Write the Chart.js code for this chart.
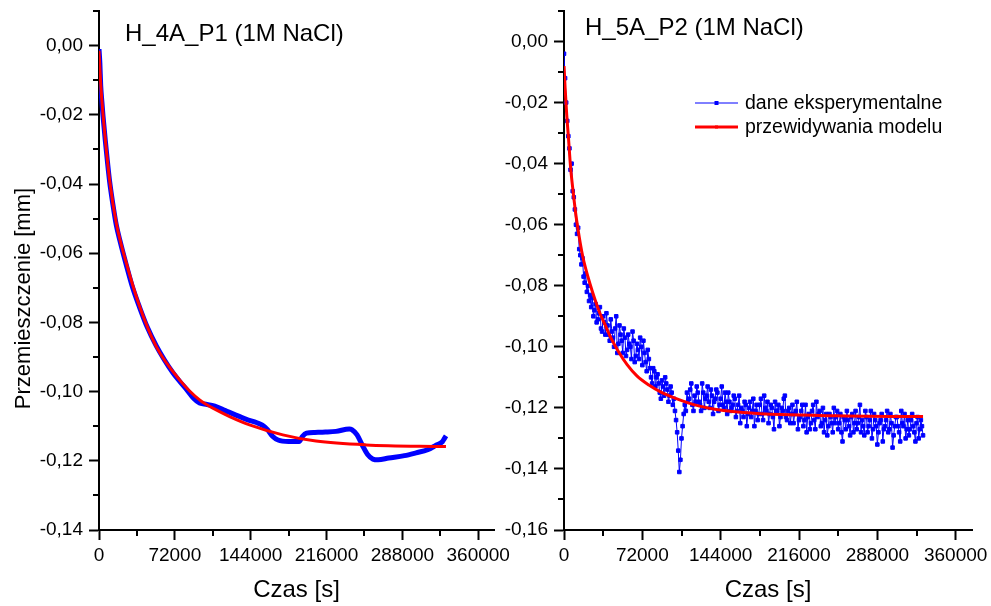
<!DOCTYPE html>
<html>
<head>
<meta charset="utf-8">
<script src="https://cdn.jsdelivr.net/npm/chart.js@4.4.1/dist/chart.umd.min.js"></script>
<style>
  html, body { margin: 0; padding: 0; background: #fff; overflow: hidden; }
  #wrap { position: relative; width: 991px; height: 606px; overflow: hidden; }
  canvas { position: absolute; top: 0; }
  #left { left: 0; }
  #right { left: 480px; }
</style>
</head>
<body>
<div id="wrap">
  <canvas id="left" width="530" height="606"></canvas>
  <canvas id="right" width="530" height="606"></canvas>
</div>
<script>
// tick values
const xTicks = [0, 72000, 144000, 216000, 288000, 360000];
const xMinor = [36000, 108000, 180000, 252000, 324000];
const leftYTicks = [0, -0.02, -0.04, -0.06, -0.08, -0.10, -0.12, -0.14];
const leftYMinor = [0.01, -0.01, -0.03, -0.05, -0.07, -0.09, -0.11, -0.13];
const rightYTicks = [0, -0.02, -0.04, -0.06, -0.08, -0.10, -0.12, -0.14, -0.16];
const rightYMinor = [0.01, -0.01, -0.03, -0.05, -0.07, -0.09, -0.11, -0.13, -0.15];

const seriesNames = ['dane eksperymentalne', 'przewidywania modelu'];

const leftExpTime = [0, 800, 1600, 2800, 3800, 6000, 8000, 10100, 13000, 16500, 20000, 26000, 32000, 38600,
  46000, 54400, 62000, 70000, 76500, 84000, 90000, 95500, 100000, 110000, 120000, 130000, 140000, 150000,
  155000, 160000, 165000, 170000, 180000, 190000, 193000, 197000, 205000, 215000, 225000, 237700, 240000,
  245000, 250000, 255000, 260000, 265000, 275000, 290000, 301000, 312000, 320000, 326000, 328000, 329500];
const leftExpDisp = [-0.0010, -0.0050, -0.0115, -0.0165, -0.0203, -0.0275, -0.0335, -0.0393, -0.0455, -0.0520,
  -0.0565, -0.0635, -0.0700, -0.0757, -0.0815, -0.0868, -0.0908, -0.0945, -0.0970, -0.0997, -0.1020, -0.1033,
  -0.1036, -0.1042, -0.1055, -0.1068, -0.1080, -0.1090, -0.1097, -0.1110, -0.1130, -0.1140, -0.1144, -0.1144,
  -0.1130, -0.1120, -0.1118, -0.1117, -0.1115, -0.1108, -0.1110, -0.1125, -0.1155, -0.1182, -0.1195, -0.1197,
  -0.1192, -0.1185, -0.1177, -0.1168, -0.1155, -0.1145, -0.1135, -0.1128];

// H_4A_P1 - model
const leftModelTime = [0, 1600, 3800, 10100, 16500, 26000, 38600, 54400, 76500, 95500, 111300, 124000,
  142900, 174500, 206000, 253500, 329400];
const leftModelDisp = [-0.0015, -0.0110, -0.0197, -0.0389, -0.0514, -0.0629, -0.0754, -0.0870, -0.0966,
  -0.1024, -0.1053, -0.1072, -0.1096, -0.1125, -0.1143, -0.1154, -0.1159];

// H_5A_P2 - experiment, one reading every 1000 s
const rightExpTime = [
  0, 1000, 2000, 3000, 4000, 5000, 6000, 7000, 8000, 9000,
  10000, 11000, 12000, 13000, 14000, 15000, 16000, 17000, 18000, 19000,
  20000, 21000, 22000, 23000, 24000, 25000, 26000, 27000, 28000, 29000,
  30000, 31000, 32000, 33000, 34000, 35000, 36000, 37000, 38000, 39000,
  40000, 41000, 42000, 43000, 44000, 45000, 46000, 47000, 48000, 49000,
  50000, 51000, 52000, 53000, 54000, 55000, 56000, 57000, 58000, 59000,
  60000, 61000, 62000, 63000, 64000, 65000, 66000, 67000, 68000, 69000,
  70000, 71000, 72000, 73000, 74000, 75000, 76000, 77000, 78000, 79000,
  80000, 81000, 82000, 83000, 84000, 85000, 86000, 87000, 88000, 89000,
  90000, 91000, 92000, 93000, 94000, 95000, 96000, 97000, 98000, 99000,
  100000, 101000, 102000, 103000, 104000, 105000, 106000, 107000, 108000, 109000,
  110000, 111000, 112000, 113000, 114000, 115000, 116000, 117000, 118000, 119000,
  120000, 121000, 122000, 123000, 124000, 125000, 126000, 127000, 128000, 129000,
  130000, 131000, 132000, 133000, 134000, 135000, 136000, 137000, 138000, 139000,
  140000, 141000, 142000, 143000, 144000, 145000, 146000, 147000, 148000, 149000,
  150000, 151000, 152000, 153000, 154000, 155000, 156000, 157000, 158000, 159000,
  160000, 161000, 162000, 163000, 164000, 165000, 166000, 167000, 168000, 169000,
  170000, 171000, 172000, 173000, 174000, 175000, 176000, 177000, 178000, 179000,
  180000, 181000, 182000, 183000, 184000, 185000, 186000, 187000, 188000, 189000,
  190000, 191000, 192000, 193000, 194000, 195000, 196000, 197000, 198000, 199000,
  200000, 201000, 202000, 203000, 204000, 205000, 206000, 207000, 208000, 209000,
  210000, 211000, 212000, 213000, 214000, 215000, 216000, 217000, 218000, 219000,
  220000, 221000, 222000, 223000, 224000, 225000, 226000, 227000, 228000, 229000,
  230000, 231000, 232000, 233000, 234000, 235000, 236000, 237000, 238000, 239000,
  240000, 241000, 242000, 243000, 244000, 245000, 246000, 247000, 248000, 249000,
  250000, 251000, 252000, 253000, 254000, 255000, 256000, 257000, 258000, 259000,
  260000, 261000, 262000, 263000, 264000, 265000, 266000, 267000, 268000, 269000,
  270000, 271000, 272000, 273000, 274000, 275000, 276000, 277000, 278000, 279000,
  280000, 281000, 282000, 283000, 284000, 285000, 286000, 287000, 288000, 289000,
  290000, 291000, 292000, 293000, 294000, 295000, 296000, 297000, 298000, 299000,
  300000, 301000, 302000, 303000, 304000, 305000, 306000, 307000, 308000, 309000,
  310000, 311000, 312000, 313000, 314000, 315000, 316000, 317000, 318000, 319000,
  320000, 321000, 322000, 323000, 324000, 325000, 326000, 327000, 328000, 329000,
  330000];
const rightExpDisp = [
  -0.004, -0.012, -0.020, -0.026, -0.031, -0.035, -0.042, -0.040, -0.049, -0.051,
  -0.055, -0.060, -0.063, -0.061, -0.068, -0.070, -0.073, -0.071, -0.077, -0.079,
  -0.076, -0.082, -0.080, -0.085, -0.083, -0.087, -0.084, -0.090, -0.088, -0.086,
  -0.092, -0.091, -0.089, -0.087, -0.094, -0.095, -0.090, -0.092, -0.096, -0.089,
  -0.093, -0.096, -0.098, -0.091, -0.095, -0.097, -0.100, -0.094, -0.090, -0.102,
  -0.099, -0.093, -0.096, -0.098, -0.102, -0.094, -0.097, -0.103, -0.101, -0.096,
  -0.099, -0.100, -0.104, -0.095, -0.098, -0.105, -0.103, -0.099, -0.101, -0.104,
  -0.097, -0.100, -0.106, -0.098, -0.102, -0.105, -0.108, -0.101, -0.104, -0.107,
  -0.110, -0.112, -0.107, -0.108, -0.113, -0.110, -0.109, -0.112, -0.115, -0.117,
  -0.111, -0.113, -0.116, -0.110, -0.112, -0.114, -0.118, -0.116, -0.113, -0.115,
  -0.119, -0.117, -0.121, -0.124, -0.128, -0.134, -0.141, -0.137, -0.130, -0.126,
  -0.122, -0.119, -0.121, -0.115, -0.118, -0.117, -0.114, -0.112, -0.119, -0.121,
  -0.116, -0.118, -0.113, -0.115, -0.118, -0.119, -0.121, -0.112, -0.115, -0.120,
  -0.117, -0.116, -0.113, -0.118, -0.120, -0.114, -0.116, -0.122, -0.118, -0.117,
  -0.114, -0.115, -0.121, -0.119, -0.117, -0.113, -0.119, -0.120, -0.115, -0.118,
  -0.122, -0.115, -0.118, -0.121, -0.120, -0.119, -0.116, -0.117, -0.123, -0.121,
  -0.119, -0.116, -0.125, -0.120, -0.121, -0.123, -0.118, -0.119, -0.126, -0.122,
  -0.120, -0.118, -0.123, -0.121, -0.117, -0.126, -0.121, -0.119, -0.124, -0.122,
  -0.119, -0.117, -0.122, -0.124, -0.116, -0.120, -0.121, -0.118, -0.125, -0.122,
  -0.119, -0.120, -0.123, -0.127, -0.118, -0.121, -0.121, -0.119, -0.126, -0.123,
  -0.120, -0.121, -0.117, -0.116, -0.123, -0.124, -0.121, -0.120, -0.125, -0.122,
  -0.119, -0.125, -0.122, -0.121, -0.118, -0.127, -0.124, -0.123, -0.121, -0.119,
  -0.126, -0.124, -0.119, -0.128, -0.123, -0.122, -0.127, -0.125, -0.121, -0.119,
  -0.124, -0.127, -0.118, -0.123, -0.122, -0.121, -0.126, -0.125, -0.120, -0.128,
  -0.124, -0.122, -0.129, -0.126, -0.122, -0.123, -0.125, -0.128, -0.120, -0.125,
  -0.123, -0.121, -0.127, -0.125, -0.122, -0.128, -0.131, -0.123, -0.124, -0.127,
  -0.121, -0.124, -0.126, -0.129, -0.123, -0.122, -0.128, -0.125, -0.121, -0.127,
  -0.125, -0.123, -0.119, -0.128, -0.124, -0.126, -0.129, -0.121, -0.123, -0.128,
  -0.126, -0.124, -0.121, -0.130, -0.127, -0.122, -0.124, -0.126, -0.132, -0.128,
  -0.125, -0.124, -0.122, -0.131, -0.127, -0.126, -0.124, -0.121, -0.128, -0.127,
  -0.122, -0.125, -0.133, -0.129, -0.126, -0.123, -0.123, -0.126, -0.128, -0.131,
  -0.121, -0.125, -0.126, -0.122, -0.130, -0.127, -0.124, -0.129, -0.127, -0.124,
  -0.122, -0.126, -0.128, -0.131, -0.125, -0.123, -0.130, -0.127, -0.124, -0.126,
  -0.129];

// H_5A_P2 - model
const rightModelTime = [0, 1000, 2500, 4000, 6000, 8500, 11000, 14000, 17000, 20000, 24000, 28000, 33000,
  38000, 43000, 50000, 58000, 67000, 78000, 90000, 105000, 120000, 140000, 165000, 200000, 250000, 300000, 330000];
const rightModelDisp = [-0.008, -0.015, -0.024, -0.031, -0.041, -0.0495, -0.057, -0.064, -0.070, -0.0745,
  -0.0795, -0.084, -0.089, -0.093, -0.097, -0.1015, -0.1058, -0.1095, -0.1125, -0.115, -0.1172, -0.119,
  -0.1205, -0.1215, -0.1222, -0.1226, -0.1228, -0.1228];

const FONT = '"Liberation Sans", Arial, sans-serif';
Chart.defaults.font.family = FONT;
Chart.defaults.color = '#000';

const pts = (xs, ys) => xs.map((x, i) => ({ x: x, y: ys[i] }));
const fmtY = v => v.toFixed(2).replace('.', ',');

// minor ticks, panel title, y title and legend
const decor = {
  id: 'decor',
  afterDraw(chart, args, o) {
    const { ctx, chartArea: a, scales: { x, y } } = chart;
    ctx.save();
    ctx.strokeStyle = '#000';
    ctx.lineWidth = 2;
    ctx.beginPath();
    o.minorX.forEach(v => {
      const px = Math.round(x.getPixelForValue(v));
      ctx.moveTo(px, a.bottom);
      ctx.lineTo(px, a.bottom + 6);
    });
    o.minorY.forEach(v => {
      const py = Math.round(y.getPixelForValue(v));
      ctx.moveTo(a.left, py);
      ctx.lineTo(a.left - 6, py);
    });
    ctx.stroke();

    ctx.fillStyle = '#000';
    ctx.textBaseline = 'alphabetic';
    ctx.font = '24px ' + FONT;
    ctx.fillText(o.title, a.left + o.titleDx, a.top + o.titleDy);

    if (o.yTitle) {
      ctx.save();
      ctx.font = '22px ' + FONT;
      ctx.translate(o.yTitleX, o.yTitleY);
      ctx.rotate(-Math.PI / 2);
      ctx.textAlign = 'center';
      ctx.fillText(o.yTitle, 0, 0);
      ctx.restore();
    }

    if (o.legend) {
      ctx.font = '19.5px ' + FONT;
      chart.data.datasets.forEach((d, i) => {
        const ly = a.top + 92 + i * 24;
        const x0 = a.left + 131, x1 = a.left + 174;
        ctx.strokeStyle = d.borderColor;
        ctx.lineWidth = d.borderWidth;
        ctx.beginPath();
        ctx.moveTo(x0, ly);
        ctx.lineTo(x1, ly);
        ctx.stroke();
        ctx.fillStyle = d.borderColor;
        const s = i === 0 ? 4 : 3;
        ctx.fillRect((x0 + x1) / 2 - s / 2, ly - s / 2, s, s);
        ctx.fillStyle = '#000';
        ctx.fillText(d.label, a.left + 181, ly + 6);
      });
    }
    ctx.restore();
  }
};

function scales(yTicks, yMin, yWidth) {
  const grid = { display: true, drawOnChartArea: false, drawTicks: true, tickLength: 10, tickWidth: 2, tickColor: '#000' };
  const border = { display: true, color: '#000', width: 2 };
  return {
    x: {
      type: 'linear', min: 0, max: 375000,
      afterBuildTicks: s => { s.ticks = xTicks.map(v => ({ value: v })); },
      afterFit: s => { s.height = 76; s.paddingLeft = 0; s.paddingRight = 0; },
      grid: grid, border: border,
      ticks: { color: '#000', font: { size: 19 }, padding: 4, maxRotation: 0, autoSkip: false, callback: v => String(v) },
      title: { display: true, text: 'Czas [s]', color: '#000', font: { size: 24 }, padding: { top: 0, bottom: 1 } }
    },
    y: {
      type: 'linear', min: yMin, max: 0.01,
      afterBuildTicks: s => { s.ticks = yTicks.map(v => ({ value: v })); },
      afterFit: s => { s.width = yWidth; s.paddingTop = 0; s.paddingBottom = 0; },
      grid: grid, border: border,
      ticks: { color: '#000', font: { size: 19 }, padding: 6, autoSkip: false, callback: v => fmtY(v) }
    }
  };
}

new Chart(document.getElementById('left'), {
  type: 'line',
  data: {
    datasets: [
      { label: seriesNames[0], data: pts(leftExpTime, leftExpDisp), borderColor: '#0000ff', borderWidth: 5,
        pointRadius: 0, cubicInterpolationMode: 'monotone', order: 1 },
      { label: seriesNames[1], data: pts(leftModelTime, leftModelDisp), borderColor: '#ff0000', borderWidth: 3,
        pointRadius: 0, cubicInterpolationMode: 'monotone', order: 0 }
    ]
  },
  options: {
    responsive: false, animation: false, devicePixelRatio: 1,
    layout: { padding: { top: 11, right: 36, left: 0, bottom: 0 } },
    scales: scales(leftYTicks, -0.14, 99),
    plugins: {
      legend: { display: false }, tooltip: { enabled: false },
      decor: { minorX: xMinor, minorY: leftYMinor, title: 'H_4A_P1 (1M NaCl)', titleDx: 26, titleDy: 30,
        yTitle: 'Przemieszczenie [mm]', yTitleX: 29.5, yTitleY: 298.5, legend: false }
    }
  },
  plugins: [decor]
});

new Chart(document.getElementById('right'), {
  type: 'line',
  data: {
    datasets: [
      { label: seriesNames[0], data: pts(rightExpTime, rightExpDisp), borderColor: '#0000ff', borderWidth: 1,
        pointStyle: 'rect', pointRadius: 2.5, pointBorderWidth: 1, pointBackgroundColor: '#0000ff',
        pointBorderColor: '#0000ff', order: 1 },
      { label: seriesNames[1], data: pts(rightModelTime, rightModelDisp), borderColor: '#ff0000', borderWidth: 3,
        pointRadius: 0, cubicInterpolationMode: 'monotone', order: 0 }
    ]
  },
  options: {
    responsive: false, animation: false, devicePixelRatio: 1,
    layout: { padding: { top: 11, right: 38, left: 0, bottom: 0 } },
    scales: scales(rightYTicks, -0.16, 84),
    plugins: {
      legend: { display: false }, tooltip: { enabled: false },
      decor: { minorX: xMinor, minorY: rightYMinor, title: 'H_5A_P2 (1M NaCl)', titleDx: 21, titleDy: 24,
        legend: true }
    }
  },
  plugins: [decor]
});
</script>
</body>
</html>
